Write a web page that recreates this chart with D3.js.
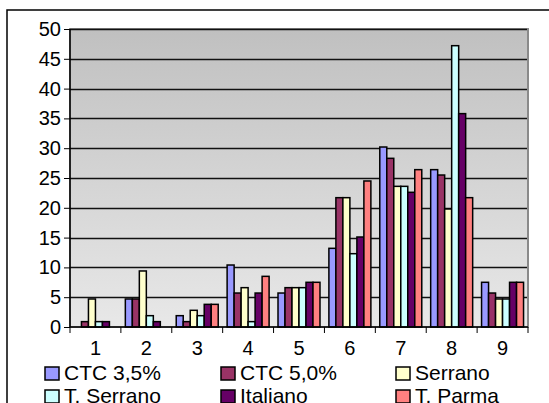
<!DOCTYPE html>
<html><head><meta charset="utf-8">
<script src="https://cdn.jsdelivr.net/npm/d3@7"></script>
<style>html,body{margin:0;padding:0;background:#fff;}svg{display:block;font-family:Arial,"Liberation Sans",sans-serif;}</style>
</head><body><div id="chart"></div>
<script>
const categories = ["1","2","3","4","5","6","7","8","9"];
const seriesNames = ["CTC 3,5%","CTC 5,0%","Serrano","T. Serrano","Italiano","T. Parma"];
const ctc35    = [0, 4.7, 1.9, 10.4, 5.7, 13.2, 30.2, 26.4, 7.5];
const ctc50    = [0.9, 4.7, 0.9, 5.7, 6.6, 21.7, 28.3, 25.5, 5.7];
const serrano  = [4.7, 9.4, 2.8, 6.6, 6.6, 21.7, 23.6, 19.8, 4.7];
const tSerrano = [0.9, 1.9, 1.9, 0.9, 6.6, 12.3, 23.6, 47.2, 4.7];
const italiano = [0.9, 0.9, 3.8, 5.7, 7.5, 15.1, 22.6, 35.8, 7.5];
const tParma   = [0, 0, 3.8, 8.5, 7.5, 24.5, 26.4, 21.7, 7.5];
const yTicks = [0,5,10,15,20,25,30,35,40,45,50];
const colors = ["#9999FF","#993366","#FFFFCC","#CCFFFF","#660066","#FF8080"];
const seriesValues = [ctc35, ctc50, serrano, tSerrano, italiano, tParma];

const W = 549, H = 403;
const plot = {left:70, right:528, top:29, bottom:327};
const svg = d3.select("#chart").append("svg").attr("width",W).attr("height",H);

// chart area border
svg.append("rect").attr("x",7).attr("y",10).attr("width",W+20).attr("height",H+20)
  .attr("fill","#fff").attr("stroke","#000").attr("stroke-width",1.5);

const defs = svg.append("defs");
const grad = defs.append("linearGradient").attr("id","bg").attr("x1",0).attr("y1",0).attr("x2",0).attr("y2",1);
grad.append("stop").attr("offset","0%").attr("stop-color","#c0c0c0");
grad.append("stop").attr("offset","100%").attr("stop-color","#e8e8e8");

const x0 = d3.scaleBand().domain(categories).range([plot.left, plot.right]).paddingInner(0).paddingOuter(0);
const bandW = x0.bandwidth();
const x1 = d3.scaleBand().domain(d3.range(seriesNames.length)).range([0, bandW]).paddingInner(0).paddingOuter(0.636);
const y = d3.scaleLinear().domain([0,50]).range([plot.bottom, plot.top]);

svg.append("rect").attr("x",plot.left).attr("y",plot.top)
  .attr("width",plot.right-plot.left).attr("height",plot.bottom-plot.top)
  .attr("fill","url(#bg)").attr("stroke","#8a8a8a").attr("stroke-width",2);

// gridlines
svg.append("g").selectAll("line").data(yTicks.filter(d=>d>0)).join("line")
  .attr("x1",plot.left).attr("x2",plot.right-1)
  .attr("y1",d=>Math.round(y(d))+0.5).attr("y2",d=>Math.round(y(d))+0.5)
  .attr("stroke","#111").attr("stroke-width",1.3);

// bars
const groups = svg.append("g").selectAll("g").data(categories).join("g")
  .attr("transform",d=>`translate(${x0(d)},0)`);
groups.selectAll("rect").data((d,i)=>seriesValues.map((s,j)=>({j, v:s[i]}))).join("rect")
  .attr("x",d=>x1(d.j)).attr("width",x1.bandwidth())
  .attr("y",d=>y(d.v)).attr("height",d=>y(0)-y(d.v))
  .attr("fill",d=>colors[d.j]).attr("stroke","#000").attr("stroke-width",1.5);

// axes
const yAxis = d3.axisLeft(y).tickValues(yTicks).tickSize(6).tickPadding(3).tickFormat(d3.format("d"));
const gy = svg.append("g").attr("transform",`translate(${plot.left},0)`).call(yAxis);
gy.select(".domain").attr("stroke","#000").attr("stroke-width",1.5).attr("d",`M0,${plot.top}V${plot.bottom}`);
gy.selectAll(".tick line").attr("stroke","#000");
gy.selectAll("text").attr("font-size",20).attr("font-family","Arial, 'Liberation Sans', sans-serif").attr("fill","#000");

const xAxis = d3.axisBottom(x0).tickSize(0).tickPadding(14);
const gx = svg.append("g").attr("transform",`translate(0,${plot.bottom})`).call(xAxis);
gx.select(".domain").attr("stroke","#000").attr("stroke-width",1.5).attr("d",`M${plot.left},0H${plot.right}`);
gx.selectAll("text").attr("font-size",20).attr("font-family","Arial, 'Liberation Sans', sans-serif").attr("fill","#000");
// boundary ticks
svg.append("g").selectAll("line").data(d3.range(categories.length+1)).join("line")
  .attr("x1",i=>plot.left+i*bandW).attr("x2",i=>plot.left+i*bandW)
  .attr("y1",plot.bottom).attr("y2",plot.bottom+6).attr("stroke","#000").attr("stroke-width",1);

// legend
const legX = [45, 221, 396];
const legY = [367, 390];
const leg = svg.append("g").selectAll("g").data(seriesNames).join("g")
  .attr("transform",(d,i)=>`translate(${legX[i%3]},${legY[Math.floor(i/3)]})`);
leg.append("rect").attr("x",0).attr("y",0).attr("width",14).attr("height",13)
  .attr("fill",(d,i)=>colors[i]).attr("stroke","#000").attr("stroke-width",1.5);
leg.append("text").attr("x",19).attr("y",13).attr("font-size",21).attr("fill","#000").text(d=>d);
</script></body></html>
